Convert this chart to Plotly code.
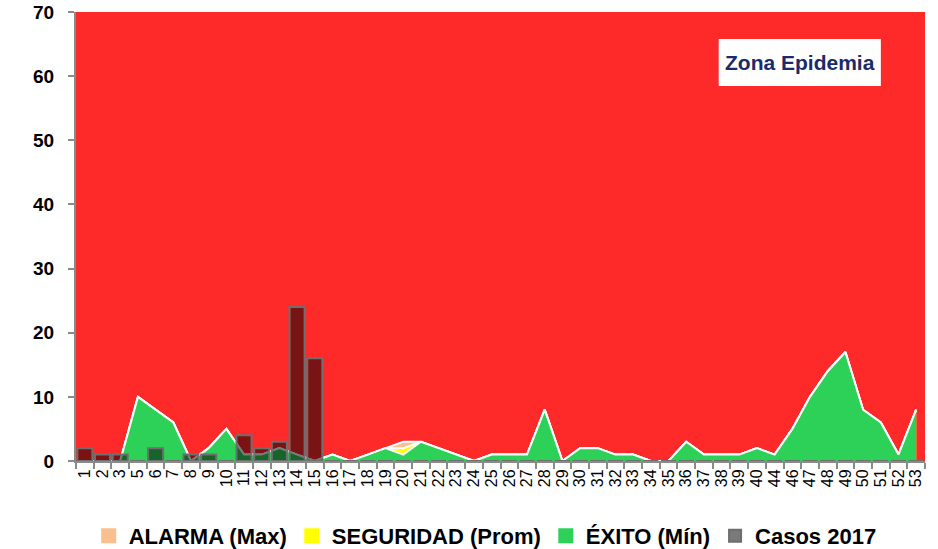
import plotly.graph_objects as go

semanas = ["1","2","3","5","6","7","8","9","10","11","12","13","14","15","16","17","18","19","20",
           "21","22","23","24","25","26","27","28","29","30","31","32","33","34","35","36","37","38",
           "39","40","44","46","47","48","49","50","51","52","53"]

exito_min = [0,0,0,10,8,6,0,2,5,1,1,2,1,0,1,0,1,2,1,
             3,2,1,0,1,1,1,8,0,2,2,1,1,0,0,3,1,1,
             1,2,1,5,10,14,17,8,6,1,8]
seguridad_prom = list(exito_min)
seguridad_prom[semanas.index("20")] = 2
alarma_max = list(exito_min)
alarma_max[semanas.index("20")] = 3

casos_2017 = [2,1,1,0,2,0,1,1,0,4,2,3,24,16,0,0,0,0,0,
              0,0,0,0,0,0,0,0,0,0,0,0,0,0,0,0,0,0,
              0,0,0,0,0,0,0,0,0,0,0]

col_alarma = "#FBBF8F"
col_seg = "#FFFF00"
col_exito = "#2ED158"

fig = go.Figure()
fig.add_trace(go.Scatter(x=semanas, y=alarma_max, name="ALARMA (Max)", mode="lines",
                         fill="tozeroy", fillcolor=col_alarma, showlegend=False,
                         line=dict(color="white", width=2)))
fig.add_trace(go.Scatter(x=semanas, y=seguridad_prom, name="SEGURIDAD (Prom)", mode="lines",
                         fill="tozeroy", fillcolor=col_seg, showlegend=False,
                         line=dict(color="white", width=2)))
fig.add_trace(go.Scatter(x=semanas, y=exito_min, name="ÉXITO (Mín)", mode="lines",
                         fill="tozeroy", fillcolor=col_exito, showlegend=False,
                         line=dict(color="white", width=2)))
# legend entries (square swatches)
for nm, c, rk in [("ALARMA (Max)", col_alarma, 1), ("SEGURIDAD (Prom)", col_seg, 2),
                  ("ÉXITO (Mín)", col_exito, 3)]:
    fig.add_trace(go.Scatter(x=[None], y=[None], mode="markers", name=nm, legendrank=rk,
                             marker=dict(symbol="square", size=15, color=c)))
fig.add_trace(go.Bar(x=semanas, y=casos_2017, name="Casos 2017", xaxis="x2", yaxis="y2",
                     legendrank=4,
                     marker=dict(color="rgba(0,0,0,0.52)", line=dict(color="#6e6e6e", width=2))))

fig.update_layout(
    width=938, height=549,
    margin=dict(l=76, r=13, t=12, b=88, autoexpand=False),
    paper_bgcolor="white",
    plot_bgcolor="#FE2A2A",
    bargap=0.15,
    showlegend=True,
    font=dict(family="Liberation Sans, Arial, sans-serif", color="black"),
    xaxis=dict(type="category", categoryorder="array", categoryarray=semanas,
               range=[-0.5, len(semanas) - 0.5], tickmode="linear", tick0=0, dtick=1,
               showgrid=False, showline=True, linecolor="#8a8a8a", linewidth=2,
               ticks="outside", tickson="boundaries", ticklen=6, tickcolor="#8a8a8a", tickwidth=2,
               tickangle=-90, tickfont=dict(size=16, color="black"), zeroline=False),
    yaxis=dict(range=[0, 70], dtick=10, showgrid=False, showline=True, linecolor="#8a8a8a",
               linewidth=2, ticks="outside", ticklen=6, tickcolor="#8a8a8a", tickwidth=2,
               ticklabelstandoff=10,
               tickfont=dict(size=19, color="black", weight="bold"), zeroline=False),
    xaxis2=dict(type="category", categoryorder="array", categoryarray=semanas,
                range=[-0.5, len(semanas) - 0.5], overlaying="x", visible=False),
    yaxis2=dict(range=[0, 70], overlaying="y", visible=False),
    legend=dict(orientation="h", x=0.482, xanchor="center", y=-0.12, yanchor="top",
                font=dict(size=22, color="black", weight="bold"),
                bgcolor="rgba(0,0,0,0)"),
    shapes=[dict(type="rect", xref="paper", yref="paper", x0=0.757, x1=0.948, y0=0.835, y1=0.94,
                 fillcolor="white", line=dict(width=0), layer="above")],
    annotations=[dict(text="<b>Zona Epidemia</b>", xref="paper", yref="paper", x=0.8525, y=0.8875,
                      xanchor="center", yanchor="middle",
                      showarrow=False, font=dict(size=21, color="#1B2A6B",
                                                 family="Liberation Sans, Arial, sans-serif"))],
)

fig.write_html("out.html", config={"displayModeBar": False},
               post_script="document.body.style.margin='0';document.body.style.overflow='hidden';")
